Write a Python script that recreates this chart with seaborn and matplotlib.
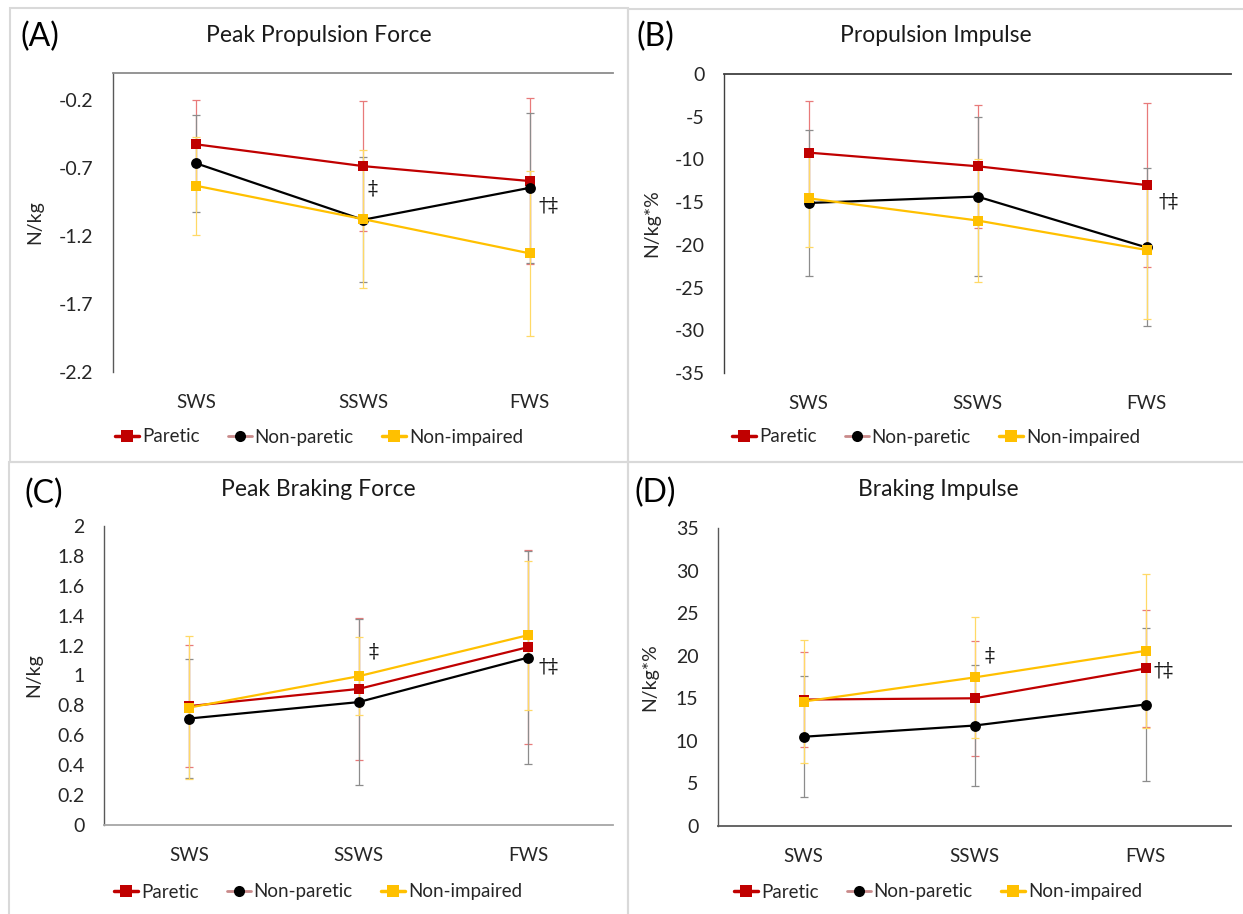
import numpy as np
import pandas as pd
import matplotlib
matplotlib.use("Agg")
import matplotlib.pyplot as plt
import seaborn as sns
from matplotlib.lines import Line2D
from matplotlib.patches import Rectangle

# ---------------- data ----------------
categories = ["SWS", "SSWS", "FWS"]
groups = ["Paretic", "Non-paretic", "Non-impaired"]

# (A) Peak Propulsion Force (N/kg)
a_paretic = [-0.525, -0.685, -0.795]
a_paretic_sd = [0.33, 0.478, 0.61]
a_nonparetic = [-0.665, -1.08, -0.845]
a_nonparetic_sd = [0.357, 0.46, 0.55]
a_nonimpaired = [-0.83, -1.075, -1.327]
a_nonimpaired_sd = [0.36, 0.51, 0.605]

# (B) Propulsion Impulse (N/kg*%)
b_paretic = [-9.2, -10.8, -13.0]
b_paretic_sd = [6.0, 7.2, 9.6]
b_nonparetic = [-15.1, -14.35, -20.3]
b_nonparetic_sd = [8.6, 9.35, 9.25]
b_nonimpaired = [-14.55, -17.15, -20.6]
b_nonimpaired_sd = [5.65, 7.25, 8.05]

# (C) Peak Braking Force (N/kg)
c_paretic = [0.795, 0.91, 1.19]
c_paretic_sd = [0.41, 0.474, 0.648]
c_nonparetic = [0.712, 0.822, 1.12]
c_nonparetic_sd = [0.397, 0.555, 0.715]
c_nonimpaired = [0.785, 0.995, 1.27]
c_nonimpaired_sd = [0.48, 0.26, 0.498]

# (D) Braking Impulse (N/kg*%)
d_paretic = [14.85, 15.0, 18.5]
d_paretic_sd = [5.63, 6.75, 6.88]
d_nonparetic = [10.48, 11.8, 14.27]
d_nonparetic_sd = [7.12, 7.08, 8.96]
d_nonimpaired = [14.62, 17.45, 20.57]
d_nonimpaired_sd = [7.19, 7.12, 9.03]

a_ticks = [-2.2, -1.7, -1.2, -0.7, -0.2]
b_ticks = [-35, -30, -25, -20, -15, -10, -5, 0]
c_ticks = [0, 0.2, 0.4, 0.6, 0.8, 1, 1.2, 1.4, 1.6, 1.8, 2]
d_ticks = [0, 5, 10, 15, 20, 25, 30, 35]

# ---------------- style ----------------
sns.set_theme(style="white")
plt.rcParams["font.family"] = ["Lato", "DejaVu Sans"]
plt.rcParams["axes.unicode_minus"] = False

W, H = 1243, 914
fig = plt.figure(figsize=(W / 100, H / 100), dpi=100)
fig.patch.set_facecolor("white")

colors = {"Paretic": "#c00000", "Non-paretic": "#000000", "Non-impaired": "#ffc000"}
err_colors = {"Paretic": "#e87a7a", "Non-paretic": "#8c8c8c", "Non-impaired": "#ffd966"}
markers = {"Paretic": "s", "Non-paretic": "o", "Non-impaired": "s"}


def px_rect(l, t, r, b):
    return [l / W, 1 - b / H, (r - l) / W, (b - t) / H]


# chart-area frames
for (l, t, r, b) in [(10, 8, 628, 462), (628, 9, 1252, 462), (9, 462, 628, 925), (628, 462, 1252, 925)]:
    fig.add_artist(Rectangle((l / W, 1 - b / H), (r - l) / W, (b - t) / H,
                             transform=fig.transFigure, fill=False,
                             edgecolor="#d9d9d9", linewidth=1.5, zorder=0))

panels = [
    dict(rect=(113, 73, 613, 372), vals=[a_paretic, a_nonparetic, a_nonimpaired],
         sds=[a_paretic_sd, a_nonparetic_sd, a_nonimpaired_sd], ticks=a_ticks, ylim=(-2.2, 0),
         neg=True, title="Peak Propulsion Force", tag="(A)", ylabel="N/kg", ylab_x=43,
         cx=319, ty=36, tagx=20, tagy=37, legy=437,
         ann=[(1, -0.85, "‡", 5), (2, -0.975, "†‡", 9)],
         hcol="#8c8c8c", vcol="#595959"),
    dict(rect=(724, 74, 1231, 373), vals=[b_paretic, b_nonparetic, b_nonimpaired],
         sds=[b_paretic_sd, b_nonparetic_sd, b_nonimpaired_sd], ticks=b_ticks, ylim=(-35, 0),
         neg=True, title="Propulsion Impulse", tag="(B)", ylabel="N/kg*%", ylab_x=660,
         cx=936, ty=36, tagx=636, tagy=37, legy=437,
         ann=[(2, -15.0, "†‡", 12)],
         hcol="#404040", vcol="#404040"),
    dict(rect=(104, 526, 613, 825), vals=[c_paretic, c_nonparetic, c_nonimpaired],
         sds=[c_paretic_sd, c_nonparetic_sd, c_nonimpaired_sd], ticks=c_ticks, ylim=(0, 2),
         neg=False, title="Peak Braking Force", tag="(C)", ylabel="N/kg", ylab_x=42,
         cx=318, ty=490, tagx=25, tagy=494, legy=892,
         ann=[(1, 1.155, "‡", 10), (2, 1.057, "†‡", 10)],
         hcol="#a6a6a6", vcol="#595959"),
    dict(rect=(718, 528, 1231, 826), vals=[d_paretic, d_nonparetic, d_nonimpaired],
         sds=[d_paretic_sd, d_nonparetic_sd, d_nonimpaired_sd], ticks=d_ticks, ylim=(0, 35),
         neg=False, title="Braking Impulse", tag="(D)", ylabel="N/kg*%", ylab_x=658,
         cx=938, ty=490, tagx=634, tagy=493, legy=892,
         ann=[(1, 19.95, "‡", 10), (2, 18.2, "†‡", 8)],
         hcol="#595959", vcol="#595959"),
]

for p in panels:
    l, t, r, b = p["rect"]
    ax = fig.add_axes(px_rect(l, t, r, b))
    ax.set_facecolor("none")
    pos = np.arange(len(categories))
    frames = []
    for g, v in zip(groups, p["vals"]):
        frames.append(pd.DataFrame({"pos": pos, "value": v, "group": g}))
    df = pd.concat(frames, ignore_index=True)

    # error bars (drawn beneath lines)
    for g, v, s in zip(groups, p["vals"], p["sds"]):
        ax.errorbar(pos, v, yerr=s, fmt="none", ecolor=err_colors[g],
                    elinewidth=0.9, capsize=2.6, capthick=0.9, zorder=1)

    sns.lineplot(data=df, x="pos", y="value", hue="group", style="group",
                 hue_order=groups, style_order=groups, palette=colors,
                 markers=markers, dashes=False, linewidth=1.6,
                 markersize=7.8, markeredgewidth=0, legend=False, ax=ax, zorder=3)

    ax.set_xlim(-0.5, len(categories) - 0.5)
    ax.set_ylim(*p["ylim"])
    ax.set_xticks(pos)
    ax.set_xticklabels(categories, fontsize=13.5, color="#262626")
    ax.set_yticks(p["ticks"])
    ax.set_yticklabels(["%g" % tv for tv in p["ticks"]], fontsize=14, color="#262626")
    ax.tick_params(axis="both", length=0)
    ax.tick_params(axis="y", pad=14)
    ax.tick_params(axis="x", pad=16)
    ax.set_xlabel("")
    ax.set_ylabel(p["ylabel"], fontsize=14, color="#262626")
    ax.yaxis.set_label_coords((p["ylab_x"] - l) / (r - l), 0.5)
    ax.grid(False)

    for sp in ax.spines.values():
        sp.set_visible(False)
    ax.spines["left"].set_visible(True)
    ax.spines["left"].set_color(p["vcol"])
    ax.spines["left"].set_linewidth(1.0)
    hs = "top" if p["neg"] else "bottom"
    ax.spines[hs].set_visible(True)
    ax.spines[hs].set_color(p["hcol"])
    ax.spines[hs].set_linewidth(1.3)

    for (ci, yv, txt, off) in p["ann"]:
        ax.annotate(txt, xy=(pos[ci], yv), xytext=(off * 0.72, 0), textcoords="offset points",
                    ha="left", va="center", fontsize=14.5, color="#1a1a1a",
                    family=["DejaVu Serif", "DejaVu Sans"])

    fig.text(p["cx"] / W, 1 - p["ty"] / H, p["title"], ha="center", va="center",
             fontsize=16.5, color="#1a1a1a")
    fig.text(p["tagx"] / W, 1 - p["tagy"] / H, p["tag"], ha="left", va="center",
             fontsize=23, color="#000000")

    handles = [
        Line2D([0], [0], color="#c00000", lw=2.5, marker="s", markersize=8, markeredgewidth=0),
        Line2D([0], [0], color="#c98a8a", lw=2.0, marker="o", markersize=8,
               markerfacecolor="#000000", markeredgewidth=0),
        Line2D([0], [0], color="#ffc000", lw=2.5, marker="s", markersize=8, markeredgewidth=0),
    ]
    fig.legend(handles, groups, loc="center", bbox_to_anchor=(p["cx"] / W, 1 - p["legy"] / H),
               ncol=3, frameon=False, fontsize=13.5, handlelength=1.3, handletextpad=0.15,
               columnspacing=1.5, labelcolor="#262626")

fig.savefig("out.png", dpi=100, facecolor="white")
